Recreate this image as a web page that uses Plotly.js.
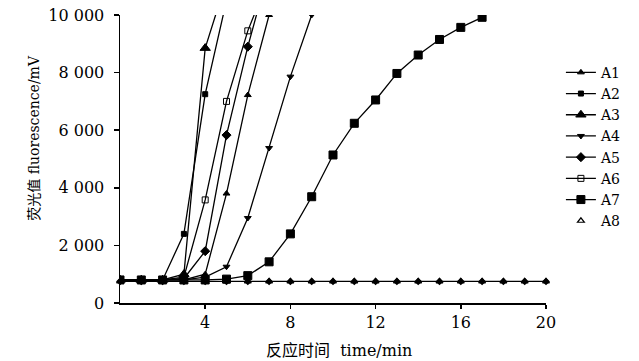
<!DOCTYPE html>
<html>
<head>
<meta charset="utf-8">
<script src="https://cdn.plot.ly/plotly-3.0.1.min.js"></script>
<style>html,body{margin:0;padding:0;background:#fff;}#chart{width:639px;height:361px;}</style>
</head>
<body>
<div id="chart"></div>
<script>
// time (min) at each reading
const time = [0,1,2,3,4,5,6,7,8,9,10,11,12,13,14,15,16,17,18,19,20];
// fluorescence / mV readings per sample (curves stop once they leave the top)
const A1 = [800,800,800,800,1000,3800,7220,10000];
const A2 = [800,800,800,2400,7250,10500];
const A3 = [800,800,800,1000,8850,11200];
const A4 = [800,800,800,800,900,1260,2950,5380,7860,10000];
const A5 = [800,800,800,850,1800,5830,8900,11600];
const A6 = [800,800,800,900,3580,7000,9450,11300];
const A7 = [800,800,800,800,800,830,950,1430,2400,3690,5140,6240,7050,7970,8610,9150,9570,9920];
const A8 = [750,750,750,750,750,750,750,750,750,750,750,750,750,750,750,750,750,750,750,750,750];

const names = ["A1","A2","A3","A4","A5","A6","A7"];
const series = [A1,A2,A3,A4,A5,A6,A7];
const symbols = ["triangle-up","square","triangle-up","triangle-down","diamond","square-open","square"];
const sizes = [6,5,9,6,7,6,8];

const yTickVals = [0,2000,4000,6000,8000,10000];
const yTickText = ["0","2 000","4 000","6 000","8 000","10 000"];
const xTickVals = [4,8,12,16,20];

const traces = series.map((s,i)=>({
  x: time.slice(0,s.length), y: s, name: names[i], type:"scatter", mode:"lines+markers",
  line:{color:"#000", width:1.3},
  marker:{symbol:symbols[i], size:sizes[i], color:"#000", line:{color:"#000", width:1}},
  cliponaxis:true
}));
traces.push({x:time, y:A8, type:"scatter", mode:"lines+markers", showlegend:false,
  line:{color:"#000", width:1.3}, marker:{symbol:"diamond", size:6, color:"#000"}, cliponaxis:false});
traces.push({x:time, y:A8, name:"A8", type:"scatter", mode:"markers",
  marker:{symbol:"triangle-up-open", size:6, color:"#000", line:{width:1.2}}, cliponaxis:false});

const font = "DejaVu Serif, Noto Sans CJK SC, serif";
const layout = {
  width:639, height:361,
  margin:{l:120, r:86, t:15, b:58},
  paper_bgcolor:"#fff", plot_bgcolor:"#fff",
  font:{family:font, size:16, color:"#000"},
  showlegend:true,
  legend:{x:1.035, xanchor:"left", y:0.855, yanchor:"top", font:{family:font, size:14, color:"#000"},
    bgcolor:"rgba(0,0,0,0)", tracegroupgap:0},
  xaxis:{range:[0,20], tickvals:xTickVals, ticks:"outside", ticklen:4, tickwidth:1.5, tickcolor:"#000",
    showline:true, linecolor:"#000", linewidth:1.5, showgrid:false, zeroline:false,
    tickfont:{family:font, size:16, color:"#000"}},
  yaxis:{range:[0,10000], tickvals:yTickVals, ticktext:yTickText, ticks:"outside", ticklen:5, tickwidth:1.5, tickcolor:"#000",
    showline:true, linecolor:"#000", linewidth:1.5, showgrid:false, zeroline:false, ticklabelstandoff:6,
    tickfont:{family:font, size:16, color:"#000"}},
  annotations:[
    {text:"荧光值 fluorescence/mV", xref:"paper", yref:"paper", x:-0.201, y:0.575, textangle:-90,
     showarrow:false, font:{family:font, size:14, color:"#000"}, xanchor:"center", yanchor:"middle"},
    {text:"反应时间  time/min", xref:"paper", yref:"paper", x:0.515, y:-0.165,
     showarrow:false, font:{family:font, size:16, color:"#000"}, xanchor:"center", yanchor:"middle"}
  ]
};
Plotly.newPlot("chart", traces, layout, {displayModeBar:false, staticPlot:true});
</script>
</body>
</html>
